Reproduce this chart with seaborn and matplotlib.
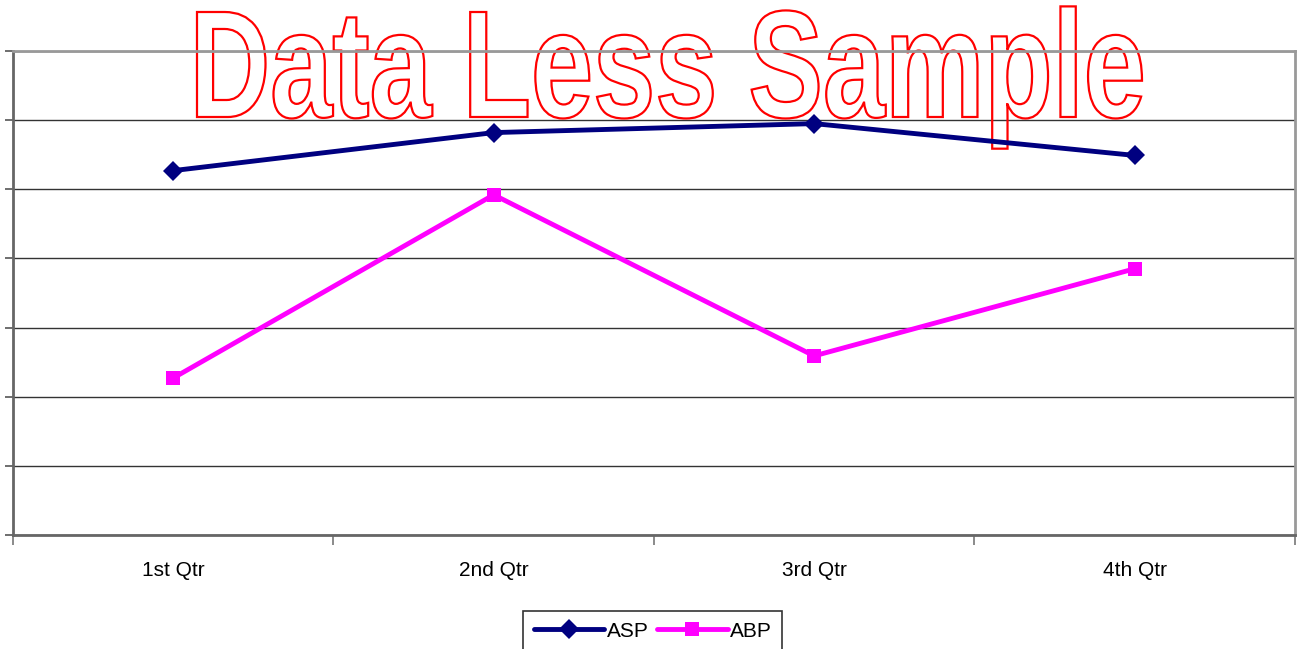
import pandas as pd
import matplotlib
matplotlib.use("Agg")
import matplotlib.pyplot as plt
from matplotlib.textpath import TextPath
from matplotlib.patches import PathPatch
from matplotlib.font_manager import FontProperties
from matplotlib.transforms import Affine2D, IdentityTransform
from matplotlib.ticker import FixedLocator, NullFormatter
import seaborn as sns

# values (y scale 0..7, no labels shown)
quarters = ["1st Qtr", "2nd Qtr", "3rd Qtr", "4th Qtr"]
asp = [5.27, 5.82, 5.95, 5.49]
abp = [2.27, 4.92, 2.59, 3.85]
watermark = "Data Less Sample"

df = pd.DataFrame({
    "Quarter": quarters * 2,
    "Value": asp + abp,
    "Series": ["ASP"] * 4 + ["ABP"] * 4,
})

sns.set_theme(style="white")
plt.rcParams["font.family"] = ["Liberation Sans", "DejaVu Sans"]

W, H = 1300, 649
fig = plt.figure(figsize=(13, 6.49), dpi=100)
ax = fig.add_axes([0.01, 0.1757, 0.986, 0.7457])

sns.lineplot(data=df, x="Quarter", y="Value", hue="Series", style="Series",
             palette={"ASP": "#000080", "ABP": "#FF00FF"},
             markers={"ASP": "D", "ABP": "s"}, dashes=False,
             linewidth=3.5, markersize=10, markeredgewidth=0,
             ax=ax, zorder=3, legend=True)

ax.set_xlim(-0.5, 3.5)
ax.set_ylim(0, 7)
ax.set_xlabel("")
ax.set_ylabel("")

ax.yaxis.set_major_locator(FixedLocator(range(0, 8)))
ax.yaxis.set_major_formatter(NullFormatter())
ax.tick_params(axis="y", which="major", left=True, length=6, width=1.2, color="#555555")
ax.grid(axis="y", color="#333333", linewidth=1)
ax.set_axisbelow(True)

ax.xaxis.set_major_locator(FixedLocator([-0.5, 0.5, 1.5, 2.5, 3.5]))
ax.xaxis.set_major_formatter(NullFormatter())
ax.set_xticks([0, 1, 2, 3], minor=True)
ax.set_xticklabels(quarters, minor=True, fontsize=15, color="black")
ax.tick_params(axis="x", which="major", bottom=True, length=7, width=1.2, color="#777777")
ax.tick_params(axis="x", which="minor", bottom=False, length=0, pad=19)

for side in ["left", "bottom"]:
    ax.spines[side].set_color("#666666")
    ax.spines[side].set_linewidth(2)
for side in ["top", "right"]:
    ax.spines[side].set_color("#999999")
    ax.spines[side].set_linewidth(2)

# hollow red title letters, stretched to the original's box
fp = FontProperties(family="Liberation Sans", weight="bold")
tp = TextPath((0, 0), watermark, size=1, prop=fp)
cap = TextPath((0, 0), "D", size=1, prop=fp).get_extents()
ext = tp.get_extents()
x0, x1 = 197, 1142      # left / right in pixels
base, top = 117, 12     # baseline / cap top in pixels from top
sx = (x1 - x0) / ext.width
sy = (base - top) / cap.height
trans = Affine2D().translate(-ext.x0, 0).scale(sx, sy).translate(x0, H - base)
patch = PathPatch(trans.transform_path(tp), facecolor="none", edgecolor="red",
                  linewidth=1.6, transform=IdentityTransform(), zorder=2)
ax.add_artist(patch)
patch.set_clip_on(False)

handles, labels = ax.get_legend_handles_labels()
leg = fig.legend(handles, labels, loc="upper center", bbox_to_anchor=(0.502, 0.058),
                 ncol=2, frameon=True, fancybox=False, edgecolor="black",
                 fontsize=15, handlelength=3.4, handletextpad=0.1, columnspacing=0.4,
                 borderpad=0.5, borderaxespad=0, labelcolor="black")
leg.get_frame().set_linewidth(1.2)
ax.get_legend().remove()

fig.savefig("out.png", dpi=100)
